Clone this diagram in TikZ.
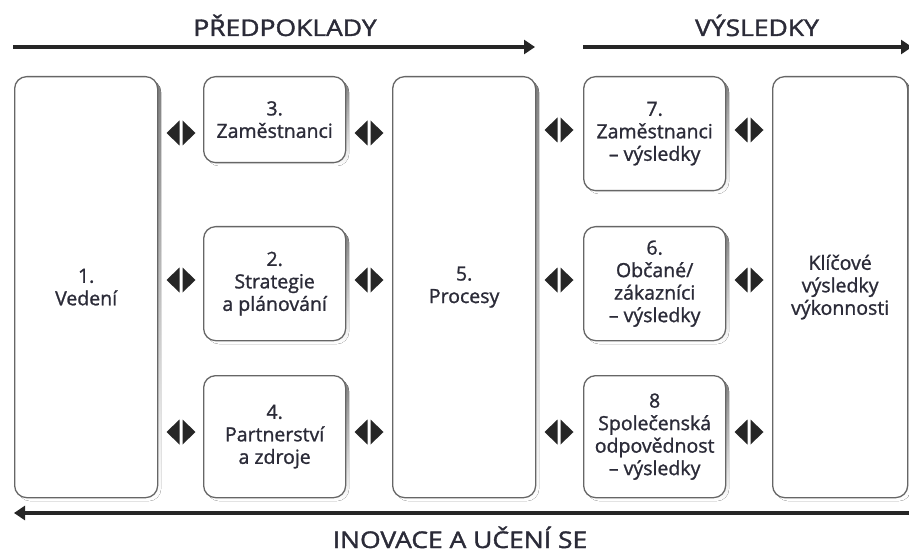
\documentclass[tikz,border=0pt]{standalone}
\usepackage{fontspec}
\setmainfont{Open Sans}[FakeBold=1.2]
\newfontfamily\headfont{Open Sans}[FakeBold=1.5]
\usetikzlibrary{calc,arrows.meta}
\definecolor{txt}{HTML}{2B2B38}
\definecolor{edge}{HTML}{666666}
\definecolor{shade}{HTML}{B8B8B8}
\tikzset{
  boxnode/.style={draw=edge, line width=1.3pt, rounded corners=12pt, fill=white,
    text=txt, align=center, inner sep=2pt, anchor=north west,
    font=\fontsize{19.5}{22.5}\selectfont},
  heading/.style={text=txt, inner sep=0pt, anchor=base, font=\headfont\fontsize{23}{26}\selectfont},
  flow/.style={line width=3.6pt, draw=black!85, -{Triangle[length=11pt,width=14pt]}},
}
\newcommand\mkbox[6]{% name, x1, y1, x2, y2, text
  \fill[shade, rounded corners=12pt] (#2+4,#3+4) rectangle (#4+4,#5+4);
  \node[boxnode, minimum width=#4-#2, minimum height=#5-#3] (#1) at (#2,#3) {#6};
}
\newcommand\biarrow[2]{% x, y
  \fill[black!85] (#1-1.5,#2-12.5) -- (#1-1.5,#2+12.5) -- (#1-14.5,#2) -- cycle;
  \fill[black!85] (#1+1.5,#2-12.5) -- (#1+1.5,#2+12.5) -- (#1+14.5,#2) -- cycle;
}
\begin{document}
\begin{tikzpicture}[x=1pt,y=-1pt]
\useasboundingbox (0,0) rectangle (909,553);
% headings
\node[heading] (pred) at (285,36) {\scalebox{1.15}[1]{PŘEDPOKLADY}};
\node[heading] (vys) at (757,36) {\scalebox{1.15}[1]{VÝSLEDKY}};
\node[heading] (inov) at (460,548) {\scalebox{1.15}[1]{INOVACE A UČENÍ SE}};
% flow arrows
\coordinate (a1s) at (13,47); \coordinate (a1e) at (535,47);
\coordinate (a2s) at (583,47); \coordinate (a2e) at (912,47);
\coordinate (a3s) at (909,513); \coordinate (a3e) at (14,513);
\draw[flow] (a1s) -- (a1e);
\draw[flow] (a2s) -- (a2e);
\draw[flow] (a3s) -- (a3e);
% boxes
\mkbox{b1}{14}{76}{157}{497}{1.\\Vedení}
\mkbox{b3}{203}{76}{345}{162}{3.\\Zaměstnanci}
\mkbox{b2}{203}{226}{345}{340}{2.\\Strategie\\a plánování}
\mkbox{b4}{203}{375}{345}{497}{4.\\Partnerství\\a zdroje}
\mkbox{b5}{392}{76}{535}{497}{5.\\Procesy}
\mkbox{b7}{583}{76}{725}{190}{7.\\Zaměstnanci\\– výsledky}
\mkbox{b6}{583}{226}{725}{340}{6.\\Občané/\\zákazníci\\– výsledky}
\mkbox{b8}{583}{375}{725}{497}{8\\Společenská\\odpovědnost\\– výsledky}
\mkbox{b9}{772}{76}{907}{497}{Klíčové\\výsledky\\výkonnosti}
% double markers
\biarrow{181}{133}\biarrow{369}{133}\biarrow{559}{130}\biarrow{749}{130}
\biarrow{181}{280}\biarrow{369}{280}\biarrow{559}{280}\biarrow{749}{280}
\biarrow{181}{432}\biarrow{369}{432}\biarrow{559}{432}\biarrow{749}{432}
\end{tikzpicture}
\end{document}
